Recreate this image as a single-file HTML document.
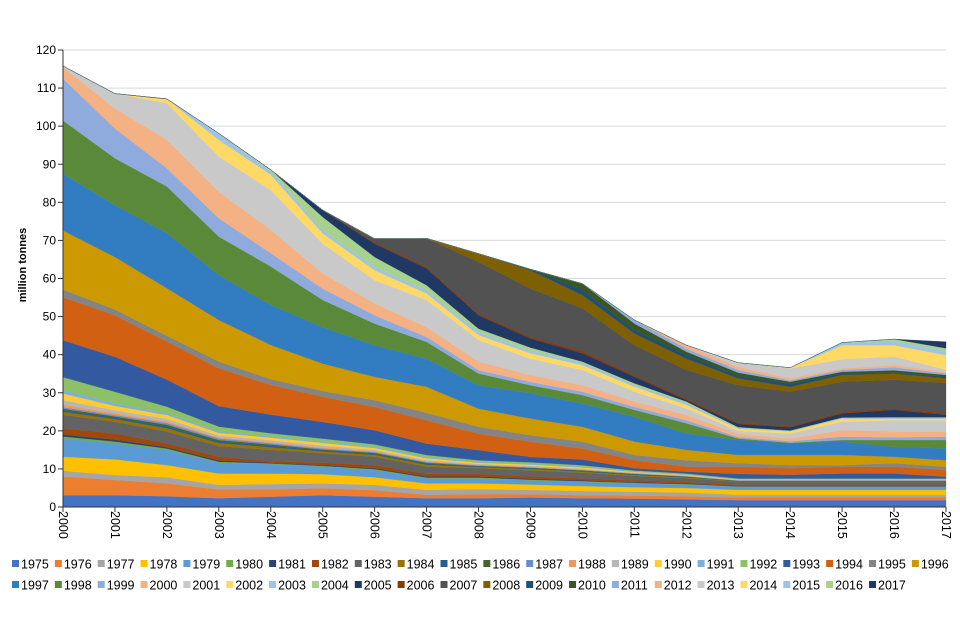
<!DOCTYPE html>
<html><head><meta charset="utf-8"><style>
body{margin:0;background:#fff;}
svg{display:block;font-family:"Liberation Sans",Arial,sans-serif;}
</style></head><body>
<svg id="chart" width="960" height="640" viewBox="0 0 960 640" xmlns="http://www.w3.org/2000/svg">
<g id="grid"></g>
<g id="areas"></g>
<g id="axes"></g>
<text transform="translate(26,265) rotate(-90)" text-anchor="middle" font-size="11" font-weight="bold" fill="#000">million tonnes</text>
<g id="legend"></g>
</svg>
<script>
const years = [2000,2001,2002,2003,2004,2005,2006,2007,2008,2009,2010,2011,2012,2013,2014,2015,2016,2017];
const yTicks = [0,10,20,30,40,50,60,70,80,90,100,110,120];
const seriesNames = [];
for (let y = 1975; y <= 2017; y++) seriesNames.push(String(y));
const s1975 = [3.1,3.1,2.8,2.3,2.7,3.1,2.7,2.3,2.3,2.5,2.3,2.2,2.0,1.8,1.8,1.8,1.8,1.8];
const s1976 = [4.9,4.0,3.4,2.3,1.9,1.8,1.7,0.9,1.1,0.9,0.8,0.8,0.8,0.7,0.7,0.7,0.7,0.7];
const s1977 = [1.5,1.3,1.6,1.2,1.4,1.3,1.4,1.3,1.3,1.1,1.1,1.0,1.0,0.7,0.7,0.7,0.7,0.7];
const s1978 = [3.7,4.1,3.2,3.0,2.8,2.4,2.0,1.7,1.5,1.4,1.3,1.2,1.2,1.3,1.3,1.3,1.3,1.3];
const s1979 = [4.8,4.2,4.0,2.8,2.5,2.0,1.9,1.3,1.3,1.1,1.1,1.0,0.9,0.8,0.8,0.8,0.8,0.8];
const s1980 = [0.5,0.5,0.35,0.3,0.15,0.2,0.25,0.25,0.25,0.2,0.2,0.15,0.15,0.1,0.1,0.1,0.1,0.1];
const s1981 = [0.5,0.5,0.35,0.3,0.15,0.2,0.25,0.25,0.25,0.2,0.2,0.15,0.15,0.1,0.1,0.1,0.1,0.1];
const s1982 = [1.7,1.6,1.0,1.0,0.4,0.6,0.8,0.7,0.7,0.6,0.5,0.5,0.4,0.3,0.3,0.3,0.3,0.3];
const s1983 = [3.5,3.1,3.1,2.8,3.0,2.5,2.2,1.9,1.5,1.6,1.5,1.2,1.0,0.8,0.8,0.8,0.8,0.8];
const s1984 = [0.8,0.7,0.9,0.8,0.7,0.5,0.5,0.5,0.3,0.4,0.3,0.25,0.2,0.15,0.15,0.15,0.15,0.15];
const s1985 = [0.4,0.35,0.45,0.4,0.35,0.25,0.25,0.25,0.15,0.15,0.15,0.12,0.1,0.08,0.08,0.08,0.08,0.08];
const s1986 = [0.4,0.35,0.45,0.4,0.35,0.25,0.25,0.25,0.15,0.15,0.15,0.12,0.1,0.08,0.08,0.08,0.08,0.08];
const s1987 = [0.4,0.35,0.45,0.4,0.35,0.25,0.25,0.25,0.15,0.15,0.15,0.12,0.1,0.08,0.08,0.08,0.08,0.08];
const s1988 = [0.7,0.45,0.4,0.27,0.27,0.27,0.2,0.18,0.13,0.13,0.12,0.08,0.07,0.05,0.05,0.05,0.05,0.05];
const s1989 = [1.2,0.8,0.7,0.5,0.5,0.5,0.35,0.32,0.23,0.23,0.22,0.14,0.12,0.09,0.09,0.09,0.09,0.09];
const s1990 = [1.7,1.15,1.0,0.7,0.7,0.7,0.5,0.45,0.32,0.32,0.3,0.19,0.17,0.12,0.12,0.12,0.12,0.12];
const s1991 = [0.9,0.6,0.5,0.33,0.33,0.33,0.25,0.25,0.17,0.17,0.16,0.09,0.09,0.07,0.07,0.07,0.07,0.07];
const s1992 = [3.4,3.1,1.7,1.3,0.8,0.8,0.7,0.6,0.45,0.45,0.42,0.28,0.25,0.17,0.17,0.17,0.17,0.17];
const s1993 = [9.7,9.2,7.1,5.4,4.9,4.4,3.7,3.0,2.7,1.4,1.5,0.6,0.5,1.2,1.0,1.3,1.3,0.5];
const s1994 = [11.3,10.9,10.0,9.9,7.8,6.6,6.1,6.1,4.3,4.0,2.9,2.1,1.3,1.9,1.7,1.8,1.8,1.7];
const s1995 = [2.0,1.5,1.5,1.8,1.5,1.5,1.8,2.0,1.8,1.7,1.8,1.4,1.7,0.9,0.8,0.4,0.9,0.9];
const s1996 = [15.5,13.8,12.5,10.9,9.0,7.2,6.1,6.8,4.8,4.4,3.9,3.5,2.7,2.2,2.7,2.7,1.7,1.7];
const s1997 = [14.9,13.6,14.5,11.8,10.5,9.6,8.3,7.4,6.1,6.6,6.1,6.5,4.3,3.9,3.0,3.5,2.6,3.1];
const s1998 = [14.0,12.3,12.2,10.1,10.1,7.1,5.7,4.4,3.1,2.1,2.2,1.8,2.7,0.4,0.2,0.4,1.8,2.2];
const s1999 = [11.0,7.8,4.8,4.8,3.5,3.0,2.2,1.3,0.9,0.9,0.9,0.8,0.8,0.4,0.4,0.9,0.7,0.9];
const s2000 = [3.0,5.3,7.5,7.0,6.1,4.0,3.1,2.6,2.2,1.8,1.7,1.4,1.4,0.8,0.7,1.7,1.5,1.3];
const s2001 = [0.3,3.9,9.6,9.2,10.5,7.8,6.1,7.1,5.7,4.3,4.0,2.6,1.7,0.8,1.3,2.2,3.0,3.0];
const s2002 = [0,0,1.1,4.4,4.0,2.7,2.6,1.7,1.3,1.4,1.3,1.3,0.9,0.6,0.6,0.8,0.4,0.4];
const s2003 = [0,0,0,1.7,0.9,0.8,0.9,0.8,0.8,0.7,0.6,0.4,0.5,0.2,0.1,0.15,0.2,0.2];
const s2004 = [0,0,0,0,0.4,3.5,2.6,1.4,0.9,0.8,0.3,0.5,0.4,0.2,0.1,0.15,0.2,0.2];
const s2005 = [0,0,0,0,0,1.8,3.5,4.4,3.5,2.4,2.2,1.7,0.4,0.8,0.8,1.1,1.9,0.6];
const s2006 = [0,0,0,0,0,0,0.3,0.4,0.4,0.4,0.6,0.4,0.4,0.3,0.3,0.4,0.4,0.4];
const s2007 = [0,0,0,0,0,0,1.0,7.5,13.6,12.7,11.2,7.9,7.5,9.9,9.1,7.9,7.5,8.0];
const s2008 = [0,0,0,0,0,0,0,0,2.2,4.8,3.5,3.1,3.0,1.8,1.3,1.8,1.7,1.2];
const s2009 = [0,0,0,0,0,0,0,0,0,0.3,1.3,0.9,0.9,0.6,0.7,0.4,0.2,0.4];
const s2010 = [0,0,0,0,0,0,0,0,0,0,1.7,1.7,0.9,0.9,0.6,0.4,0.6,0.5];
const s2011 = [0,0,0,0,0,0,0,0,0,0,0,0.9,0.8,0.7,0.4,0.5,0.8,0.4];
const s2012 = [0,0,0,0,0,0,0,0,0,0,0,0,0.9,0.8,0.5,0.4,0.6,0.4];
const s2013 = [0,0,0,0,0,0,0,0,0,0,0,0,0,1.1,2.6,2.4,2.2,0.6];
const s2014 = [0,0,0,0,0,0,0,0,0,0,0,0,0,0,0.2,3.7,3.0,3.8];
const s2015 = [0,0,0,0,0,0,0,0,0,0,0,0,0,0,0,0.7,0.9,1.1];
const s2016 = [0,0,0,0,0,0,0,0,0,0,0,0,0,0,0,0,0.7,0.7];
const s2017 = [0,0,0,0,0,0,0,0,0,0,0,0,0,0,0,0,0,1.7];
const seriesValues = [s1975,s1976,s1977,s1978,s1979,s1980,s1981,s1982,s1983,s1984,s1985,s1986,s1987,s1988,s1989,s1990,s1991,s1992,s1993,s1994,s1995,s1996,s1997,s1998,s1999,s2000,s2001,s2002,s2003,s2004,s2005,s2006,s2007,s2008,s2009,s2010,s2011,s2012,s2013,s2014,s2015,s2016,s2017];
const palette = ["#4472C4","#ED7D31","#A5A5A5","#FFC000","#5B9BD5","#70AD47",
"#264478","#9E480E","#636363","#997300","#255E91","#43682B",
"#698ED0","#F1975A","#B7B7B7","#FFCD33","#7CAFDD","#8CC168",
"#335AA1","#D26012","#848484","#CC9A00","#327DC2","#5A8A39",
"#8FAADC","#F4B183","#C9C9C9","#FFD966","#9DC3E6","#A9D18E",
"#203864","#843C0C","#525252","#7F6000","#1F4E79","#385723",
"#8FAADC","#F4B183","#C9C9C9","#FFD966","#9DC3E6","#A9D18E","#203864"];

const NS = "http://www.w3.org/2000/svg";
const X0 = 63, X1 = 946, Y0 = 507, Y1 = 50, YMAX = 120;
const xScale = i => X0 + (X1 - X0) * i / (years.length - 1);
const yScale = v => Y0 - (Y0 - Y1) * v / YMAX;
function mk(tag, attrs, parent) {
  const el = document.createElementNS(NS, tag);
  for (const k in attrs) el.setAttribute(k, attrs[k]);
  parent.appendChild(el);
  return el;
}
const grid = document.getElementById('grid');
const axes = document.getElementById('axes');
yTicks.forEach(t => {
  const y = yScale(t);
  if (t > 0) {
    const ln = mk('line', {x1: X0, x2: X1, y1: y, y2: y, stroke: '#d9d9d9', 'stroke-width': 1}, grid);
    
    
  }
  const tk = mk('line', {x1: X0 - 5, x2: X0, y1: y, y2: y, stroke: '#333'}, axes);
  
  
  const tx = mk('text', {x: X0 - 7, y: y + 4, 'text-anchor': 'end', 'font-size': 12, fill: '#000'}, axes);
  tx.textContent = t;
  
  
});
const areas = document.getElementById('areas');
let base = years.map(() => 0);
seriesValues.forEach((vals, si) => {
  const top = base.map((b, i) => b + vals[i]);
  let pts = [];
  for (let i = 0; i < years.length; i++) pts.push(xScale(i).toFixed(1) + ',' + yScale(top[i]).toFixed(1));
  for (let i = years.length - 1; i >= 0; i--) pts.push(xScale(i).toFixed(1) + ',' + yScale(base[i]).toFixed(1));
  const p = mk('polygon', {points: pts.join(' '), fill: palette[si], stroke: palette[si], 'stroke-width': 0.3}, areas);
  
  
  base = top;
});
const yax = mk('line', {x1: X0, x2: X0, y1: Y1, y2: Y0, stroke: '#333'}, axes);


const xax = mk('line', {x1: X0, x2: X1, y1: Y0, y2: Y0, stroke: '#333'}, axes);


years.forEach((yr, i) => {
  const x = xScale(i);
  const tk = mk('line', {x1: x, x2: x, y1: Y0, y2: Y0 + 5, stroke: '#333'}, axes);
  
  
  const tx = mk('text', {transform: 'translate(' + (x - 4) + ',' + (Y0 + 4) + ') rotate(90)', 'font-size': 12.5, fill: '#000'}, axes);
  tx.textContent = yr;
  
  
});
const legend = document.getElementById('legend');
seriesNames.forEach((nm, si) => {
  const row = si < 22 ? 0 : 1;
  const col = si < 22 ? si : si - 22;
  const x = 12 + col * 42.85;
  const y = 564 + row * 21;
  const g = mk('g', {}, legend);
  
  
  mk('rect', {x: x, y: y - 4, width: 7, height: 7, fill: palette[si]}, g);
  const t = mk('text', {x: x + 9, y: y + 4.5, 'font-size': 12.5, fill: '#000'}, g);
  t.textContent = nm;
});
</script>
</body></html>
